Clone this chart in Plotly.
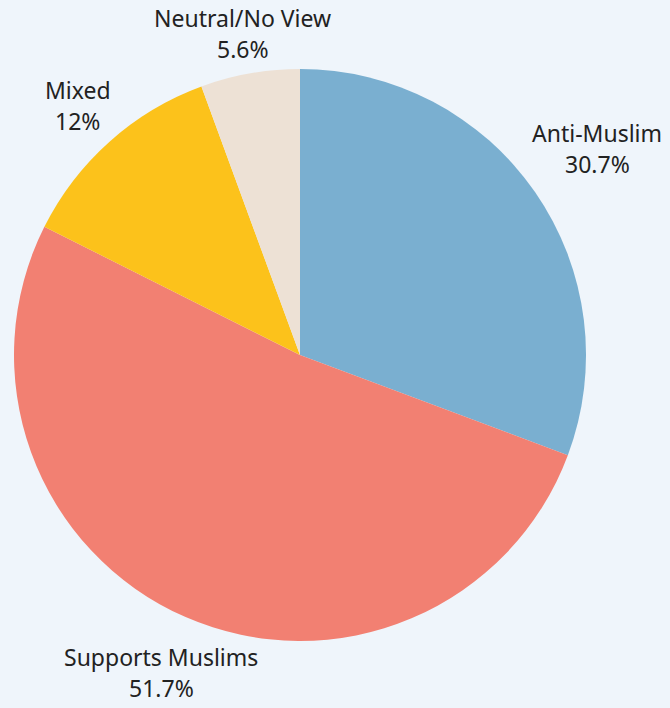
import math
import plotly.graph_objects as go

# Stance categories and their shares (percent)
labels = ["Anti-Muslim", "Supports Muslims", "Mixed", "Neutral/No View"]
shares = [30.7, 51.7, 12, 5.6]
colors = ["#7aafd0", "#f28072", "#fcc21b", "#ede1d5"]

W, H = 670, 708
margin = dict(l=14, r=84, t=69, b=67)
plot_w = W - margin["l"] - margin["r"]
plot_h = H - margin["t"] - margin["b"]
radius = min(plot_w, plot_h) / 2

font_size = 23
font = dict(family="Noto Sans", size=font_size, color="#222222")

fig = go.Figure(
    go.Pie(
        labels=labels,
        values=shares,
        sort=False,
        direction="clockwise",
        rotation=0,
        marker=dict(colors=colors, line=dict(color="#eef4fa", width=0)),
        textinfo="none",
        showlegend=False,
        hoverinfo="label+value",
    )
)


def box_distance(cx, cy, w, h):
    """Distance from the pie centre to the nearest point of a text box."""
    dx = max(0.0, abs(cx) - w / 2)
    dy = max(0.0, abs(cy) - h / 2)
    return math.hypot(dx, dy)


# Outside labels: each box sits along its slice's mid-angle, just clear of the rim
gap = 7
box_h = 56
total = sum(shares)
cum = 0.0
annotations = []
for lab, val in zip(labels, shares):
    mid = (cum + val / 2) / total * 2 * math.pi
    cum += val
    ux, uy = math.sin(mid), -math.cos(mid)  # pixel space, y pointing down
    pct = f"{val:g}%"
    box_w = max(len(lab), len(pct)) * 0.51 * font_size
    lo, hi = 0.0, 2 * radius
    for _ in range(60):
        t = (lo + hi) / 2
        if box_distance(ux * t, uy * t, box_w, box_h) < radius + gap:
            lo = t
        else:
            hi = t
    cx, cy = ux * lo, uy * lo
    px = 0.5 + cx / plot_w
    py = 0.5 - cy / plot_h
    for text, shift in ((lab, 16), (pct, -15)):
        annotations.append(
            dict(
                x=px, y=py, xref="paper", yref="paper",
                text=text, showarrow=False,
                xanchor="center", yanchor="middle",
                yshift=shift, font=font,
            )
        )

fig.update_layout(
    width=W,
    height=H,
    paper_bgcolor="#eff5fb",
    plot_bgcolor="#eff5fb",
    margin=margin,
    annotations=annotations,
)

fig.write_html("out.html")
